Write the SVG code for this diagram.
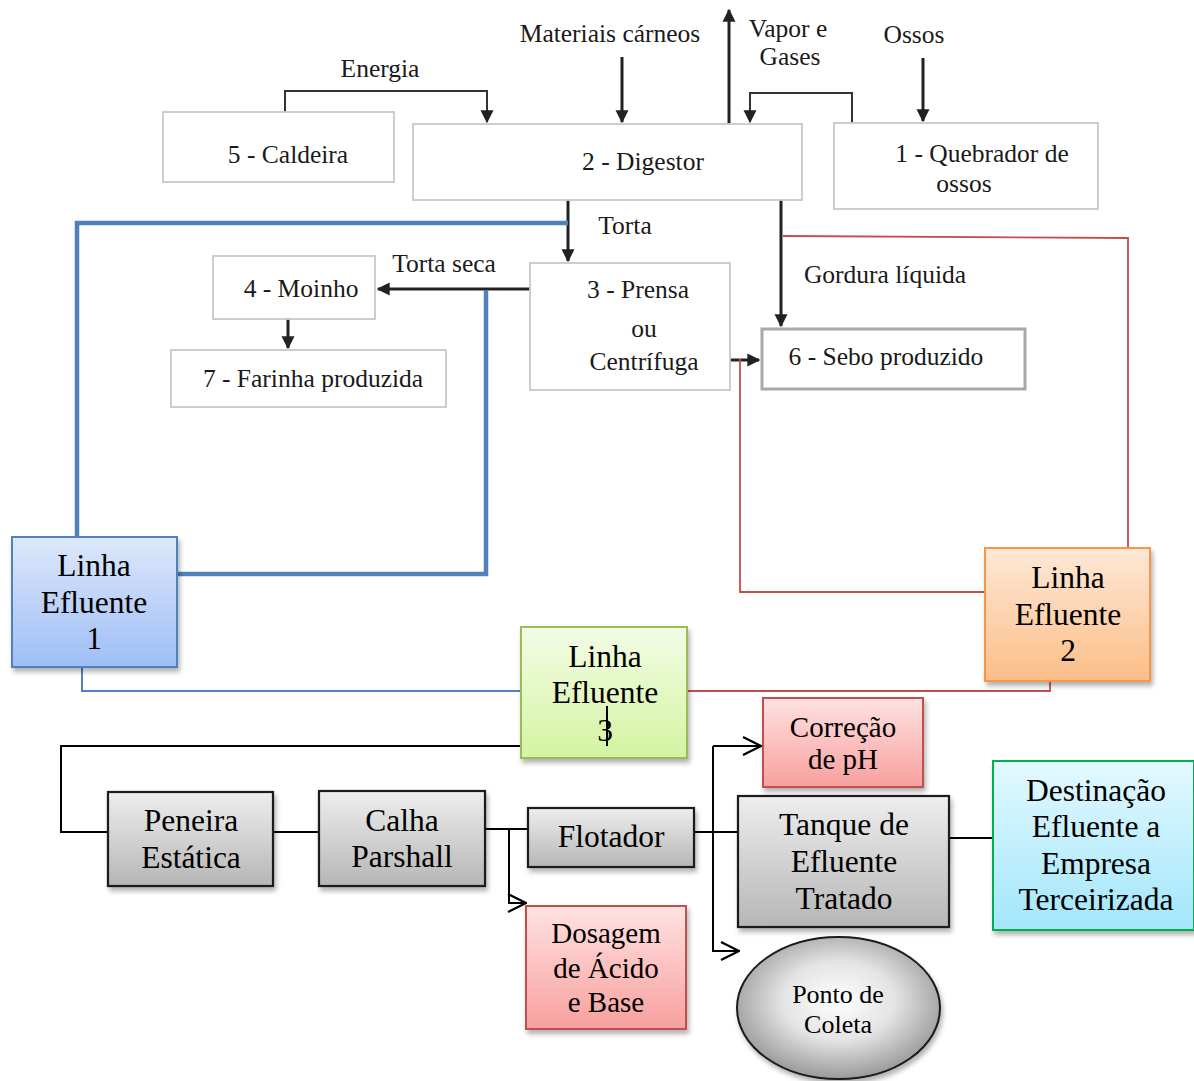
<svg xmlns="http://www.w3.org/2000/svg" width="1194" height="1081" viewBox="0 0 1194 1081">
<style>
text{font-family:"Liberation Serif","Times New Roman",serif;fill:#1a1a1a;text-anchor:middle}
.t{font-size:25.5px}
.b{font-size:31.5px;fill:#000}
.r{font-size:29px;fill:#000}
.p{font-size:26px;fill:#000}
.wbox{fill:#fff;stroke:#c8c8c8;stroke-width:1.8}
.ar{fill:none;stroke:#222;stroke-width:3}
.thin{fill:none;stroke:#333;stroke-width:2}
.blueT{fill:none;stroke:#4f81bd;stroke-width:4.5}
.blue{fill:none;stroke:#4f81bd;stroke-width:2}
.red{fill:none;stroke:#c0504d;stroke-width:1.8}
.blk{fill:none;stroke:#000;stroke-width:2}
.gbox{fill:url(#gGray);stroke:#1a1a1a;stroke-width:2.2}
.rbox{fill:url(#gRed);stroke:#c0504d;stroke-width:2}
</style>
<defs>
<marker id="ah" viewBox="0 0 10 10" refX="9" refY="5" markerUnits="userSpaceOnUse" markerWidth="13" markerHeight="14" orient="auto">
<path d="M0,0 L10,5 L0,10 z" fill="#222"/>
</marker>
<marker id="ch" viewBox="0 0 20 20" refX="19" refY="10" markerUnits="userSpaceOnUse" markerWidth="20" markerHeight="20" orient="auto">
<path d="M1,1 L19,10 L1,19" fill="none" stroke="#000" stroke-width="2.2"/>
</marker>
<linearGradient id="gBlue" x1="0" y1="0" x2="0" y2="1"><stop offset="0" stop-color="#dde8fb"/><stop offset="1" stop-color="#9ebef6"/></linearGradient>
<linearGradient id="gOrange" x1="0" y1="0" x2="0" y2="1"><stop offset="0" stop-color="#fee8d6"/><stop offset="1" stop-color="#fbbe88"/></linearGradient>
<linearGradient id="gGreen" x1="0" y1="0" x2="0" y2="1"><stop offset="0" stop-color="#f3fce6"/><stop offset="1" stop-color="#d4f4a2"/></linearGradient>
<linearGradient id="gGray" x1="0" y1="0" x2="0" y2="1"><stop offset="0" stop-color="#eeeeee"/><stop offset="1" stop-color="#b6b6b6"/></linearGradient>
<linearGradient id="gRed" x1="0" y1="0" x2="0" y2="1"><stop offset="0" stop-color="#ffe2e2"/><stop offset="1" stop-color="#f7a09e"/></linearGradient>
<linearGradient id="gCyan" x1="0" y1="0" x2="0" y2="1"><stop offset="0" stop-color="#e3f9ff"/><stop offset="1" stop-color="#a2e6fb"/></linearGradient>
<radialGradient id="gEll" cx="0.5" cy="0.45" r="0.55"><stop offset="0" stop-color="#ffffff"/><stop offset="0.5" stop-color="#e4e4e4"/><stop offset="1" stop-color="#9a9a9a"/></radialGradient>
<filter id="sh" x="-10%" y="-10%" width="125%" height="130%"><feDropShadow dx="2" dy="4" stdDeviation="2.5" flood-color="#000" flood-opacity="0.3"/></filter>
</defs>

<!-- free labels -->
<g id="labels">
<text class="t" x="380" y="77">Energia</text>
<text class="t" x="610" y="42">Materiais cárneos</text>
<text class="t" x="788" y="37">Vapor e</text>
<text class="t" x="790" y="65">Gases</text>
<text class="t" x="914" y="43">Ossos</text>
<text class="t" x="625" y="234">Torta</text>
<text class="t" x="444" y="272">Torta seca</text>
<text class="t" x="885" y="283">Gordura líquida</text>
</g>

<!-- connectors -->
<g id="connectors">
<path class="thin" d="M285,112 V91 H487 V122" marker-end="url(#ah)"/>
<path class="ar" d="M622,57 V122" marker-end="url(#ah)"/>
<path class="ar" d="M729,124 V10" marker-end="url(#ah)"/>
<path class="thin" d="M852,123 V93 H750 V122" marker-end="url(#ah)"/>
<path class="ar" d="M923,58 V121" marker-end="url(#ah)"/>
<path class="ar" d="M568,200 V261" marker-end="url(#ah)"/>
<path class="ar" d="M530,289 H378" marker-end="url(#ah)"/>
<path class="ar" d="M288,319 V348" marker-end="url(#ah)"/>
<path class="ar" d="M781,200 V326" marker-end="url(#ah)"/>
<path class="ar" d="M729,360 H759" marker-end="url(#ah)"/>
<path class="blueT" d="M568,223 H77 V537"/>
<path class="blueT" d="M486,290 V574 H178"/>
<path class="red" d="M783,236 L1128,238 V548"/>
<path class="red" d="M740,359 V592 H986"/>
<path class="red" d="M1050,627 V691 H688"/>
<path class="blue" d="M82,628 V691 H521"/>
<path class="blk" d="M521,746 H61 V832 H108"/>
<path class="blk" d="M273,832 H319"/>
<path class="blk" d="M485,829 H527"/>
<path class="blk" d="M509,829 V903 H526" marker-end="url(#ch)"/>
<path class="blk" d="M694,832 H738"/>
<path class="blk" d="M713,746 H761" marker-end="url(#ch)"/>
<path class="blk" d="M713,746 V951 H739" marker-end="url(#ch)"/>
<path class="blk" d="M949,838 H993"/>
</g>

<!-- top nodes -->
<g id="n5"><rect class="wbox" x="163" y="112" width="231" height="70"/><text class="t" x="288" y="163">5 - Caldeira</text></g>
<g id="n2"><rect class="wbox" x="413" y="124" width="389" height="76"/><text class="t" x="643" y="170">2 - Digestor</text></g>
<g id="n1"><rect class="wbox" x="834" y="123" width="264" height="86"/><text class="t" x="982" y="162">1 - Quebrador de</text><text class="t" x="964" y="192">ossos</text></g>
<g id="n3"><rect class="wbox" x="530" y="263" width="200" height="127"/><text class="t" x="638" y="298">3 - Prensa</text><text class="t" x="644" y="337">ou</text><text class="t" x="644" y="370">Centrífuga</text></g>
<g id="n4"><rect class="wbox" x="213" y="256" width="162" height="63"/><text class="t" x="301" y="297">4 - Moinho</text></g>
<g id="n7"><rect class="wbox" x="171" y="350" width="275" height="57"/><text class="t" x="313" y="387">7 - Farinha produzida</text></g>
<g id="n6"><rect x="762" y="329" width="263" height="60" fill="#fff" stroke="#a8a8a8" stroke-width="3"/><text class="t" x="886" y="365">6 - Sebo produzido</text></g>

<!-- effluent lines -->
<g id="le1"><rect x="12" y="537" width="165" height="130" fill="url(#gBlue)" stroke="#4f81bd" stroke-width="2" filter="url(#sh)"/><text class="b" x="94" y="576">Linha</text><text class="b" x="94" y="613">Efluente</text><text class="b" x="94" y="649">1</text></g>
<g id="le2"><rect x="985" y="548" width="165" height="133" fill="url(#gOrange)" stroke="#f79646" stroke-width="2" filter="url(#sh)"/><text class="b" x="1068" y="588">Linha</text><text class="b" x="1068" y="625">Efluente</text><text class="b" x="1068" y="661">2</text></g>
<g id="le3"><rect x="521" y="627" width="166" height="131" fill="url(#gGreen)" stroke="#9bbb59" stroke-width="2" filter="url(#sh)"/><text class="b" x="605" y="667">Linha</text><text class="b" x="605" y="703">Efluente</text><text class="b" x="605" y="741">3</text><path d="M607,706 V746" stroke="#000" stroke-width="2"/></g>

<!-- treatment nodes -->
<g id="peneira"><rect class="gbox" x="108" y="792" width="165" height="94" filter="url(#sh)"/><text class="b" x="191" y="831">Peneira</text><text class="b" x="191" y="868">Estática</text></g>
<g id="calha"><rect class="gbox" x="319" y="791" width="166" height="95" filter="url(#sh)"/><text class="b" x="402" y="831">Calha</text><text class="b" x="402" y="867">Parshall</text></g>
<g id="flotador"><rect class="gbox" x="528" y="808" width="166" height="59" filter="url(#sh)"/><text class="b" x="611" y="847">Flotador</text></g>
<g id="dosagem"><rect class="rbox" x="526" y="906" width="160" height="123" filter="url(#sh)"/><text class="r" x="606" y="943">Dosagem</text><text class="r" x="606" y="978">de Ácido</text><text class="r" x="606" y="1012">e Base</text></g>
<g id="correcao"><rect class="rbox" x="763" y="698" width="160" height="89" filter="url(#sh)"/><text class="r" x="843" y="737">Correção</text><text class="r" x="843" y="769">de pH</text></g>
<g id="tanque"><rect class="gbox" x="738" y="796" width="211" height="131" filter="url(#sh)"/><text class="b" x="844" y="835">Tanque de</text><text class="b" x="844" y="872">Efluente</text><text class="b" x="844" y="909">Tratado</text></g>
<g id="destinacao"><rect x="993" y="761" width="201" height="169" fill="url(#gCyan)" stroke="#00b050" stroke-width="2" filter="url(#sh)"/><text class="b" x="1096" y="801">Destinação</text><text class="b" x="1096" y="837">Efluente a</text><text class="b" x="1096" y="874">Empresa</text><text class="b" x="1096" y="910">Terceirizada</text></g>
<g id="ponto"><ellipse cx="838.5" cy="1008" rx="101.5" ry="71" fill="url(#gEll)" stroke="#1a1a1a" stroke-width="2" filter="url(#sh)"/><text class="p" x="838" y="1003">Ponto de</text><text class="p" x="838" y="1033">Coleta</text></g>
</svg>
